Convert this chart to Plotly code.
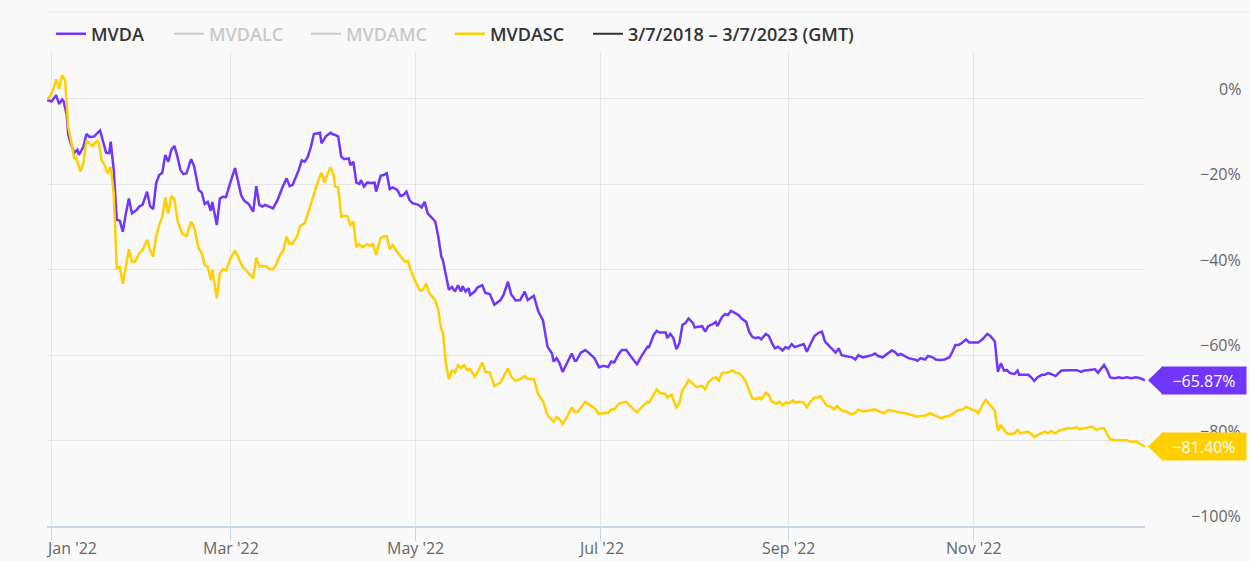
import plotly.graph_objects as go

# ---------------- data ----------------
mvda_dates = [
"2021-12-30 12:00","2022-01-01","2022-01-02 12:00","2022-01-03 12:00","2022-01-04 12:00","2022-01-05","2022-01-06","2022-01-06 12:00",
"2022-01-07 12:00","2022-01-08 12:00","2022-01-09 12:00","2022-01-10","2022-01-11 12:00","2022-01-12 12:00","2022-01-13 12:00","2022-01-15",
"2022-01-16 12:00","2022-01-17","2022-01-18","2022-01-19","2022-01-20","2022-01-20 12:00","2022-01-21 12:00","2022-01-22 12:00",
"2022-01-23 12:00","2022-01-24 12:00","2022-01-25 12:00","2022-01-26 12:00","2022-01-27 12:00","2022-01-29","2022-01-30","2022-01-31",
"2022-02-01 12:00","2022-02-02 12:00","2022-02-03 12:00","2022-02-04 12:00","2022-02-05 12:00","2022-02-06 12:00","2022-02-07 12:00","2022-02-08 12:00",
"2022-02-09 12:00","2022-02-10 12:00","2022-02-11 12:00","2022-02-12 12:00","2022-02-13 12:00","2022-02-14 12:00","2022-02-16","2022-02-17",
"2022-02-18 12:00","2022-02-19 12:00","2022-02-20 12:00","2022-02-21 12:00","2022-02-22 12:00","2022-02-23","2022-02-24 12:00","2022-02-25 12:00",
"2022-02-26 12:00","2022-02-27 12:00","2022-03-01","2022-03-02 12:00","2022-03-04","2022-03-04 12:00","2022-03-05 12:00","2022-03-07",
"2022-03-08 12:00","2022-03-09 12:00","2022-03-10 12:00","2022-03-11 12:00","2022-03-12 12:00","2022-03-14","2022-03-15","2022-03-16 12:00",
"2022-03-18","2022-03-19 12:00","2022-03-20 12:00","2022-03-21 12:00","2022-03-23","2022-03-23 12:00","2022-03-24 12:00","2022-03-25 12:00",
"2022-03-26 12:00","2022-03-27 12:00","2022-03-28 12:00","2022-03-30 12:00","2022-03-31","2022-04-01 12:00","2022-04-03","2022-04-04",
"2022-04-04 12:00","2022-04-05 12:00","2022-04-06 12:00","2022-04-07 12:00","2022-04-09","2022-04-09 12:00","2022-04-10 12:00","2022-04-11 12:00",
"2022-04-12 12:00","2022-04-13","2022-04-14","2022-04-15","2022-04-16 12:00","2022-04-17 12:00","2022-04-18","2022-04-19 12:00",
"2022-04-20 12:00","2022-04-21 12:00","2022-04-22 12:00","2022-04-23 12:00","2022-04-25","2022-04-26","2022-04-27","2022-04-28",
"2022-04-29","2022-04-30","2022-05-02","2022-05-03","2022-05-04","2022-05-05","2022-05-06 12:00","2022-05-07 12:00",
"2022-05-08 12:00","2022-05-09 12:00","2022-05-10","2022-05-11 12:00","2022-05-12","2022-05-13","2022-05-14","2022-05-15",
"2022-05-16","2022-05-16 12:00","2022-05-17 12:00","2022-05-18 12:00","2022-05-19","2022-05-20 12:00","2022-05-21 12:00","2022-05-23",
"2022-05-24","2022-05-25 12:00","2022-05-27","2022-05-29","2022-05-30","2022-05-31 12:00","2022-06-01 12:00","2022-06-03",
"2022-06-04 12:00","2022-06-06","2022-06-07","2022-06-09","2022-06-10 12:00","2022-06-12","2022-06-13 12:00","2022-06-15",
"2022-06-15 12:00","2022-06-16 12:00","2022-06-17 12:00","2022-06-18 12:00","2022-06-20","2022-06-21 12:00","2022-06-22 12:00","2022-06-23",
"2022-06-24 12:00","2022-06-26","2022-06-27 12:00","2022-06-28 12:00","2022-06-29","2022-06-30 12:00","2022-07-02","2022-07-03 12:00",
"2022-07-04 12:00","2022-07-05 12:00","2022-07-07","2022-07-08","2022-07-09 12:00","2022-07-11","2022-07-12","2022-07-13",
"2022-07-14 12:00","2022-07-16 12:00","2022-07-17","2022-07-18 12:00","2022-07-19 12:00","2022-07-20 12:00","2022-07-22 12:00","2022-07-23",
"2022-07-24","2022-07-25","2022-07-26","2022-07-27","2022-07-28","2022-07-29","2022-07-30","2022-07-31 12:00",
"2022-08-01","2022-08-02 12:00","2022-08-03 12:00","2022-08-04 12:00","2022-08-05 12:00","2022-08-07","2022-08-08","2022-08-08 12:00",
"2022-08-10","2022-08-11","2022-08-12","2022-08-13","2022-08-14","2022-08-15 12:00","2022-08-16 12:00","2022-08-18",
"2022-08-19","2022-08-20","2022-08-21","2022-08-22","2022-08-23","2022-08-24 12:00","2022-08-25 12:00","2022-08-26 12:00",
"2022-08-27 12:00","2022-08-28 12:00","2022-08-30","2022-08-31","2022-09-01","2022-09-02","2022-09-03","2022-09-04 12:00",
"2022-09-06","2022-09-07","2022-09-08","2022-09-09 12:00","2022-09-11","2022-09-12","2022-09-13","2022-09-14",
"2022-09-15 12:00","2022-09-16 12:00","2022-09-17 12:00","2022-09-18 12:00","2022-09-20 12:00","2022-09-22","2022-09-23","2022-09-24",
"2022-09-25 12:00","2022-09-27","2022-09-28 12:00","2022-09-29 12:00","2022-09-30 12:00","2022-10-02","2022-10-03 12:00","2022-10-05",
"2022-10-06","2022-10-07","2022-10-08","2022-10-09 12:00","2022-10-10 12:00","2022-10-12 12:00","2022-10-13 12:00","2022-10-14 12:00",
"2022-10-16","2022-10-17","2022-10-18 12:00","2022-10-19 12:00","2022-10-21","2022-10-22 12:00","2022-10-24","2022-10-25",
"2022-10-26","2022-10-27","2022-10-28","2022-10-29 12:00","2022-10-30 12:00","2022-11-01","2022-11-02 12:00","2022-11-04",
"2022-11-05 12:00","2022-11-06 12:00","2022-11-07 12:00","2022-11-08","2022-11-09","2022-11-09 12:00","2022-11-10","2022-11-11",
"2022-11-12","2022-11-13","2022-11-14 12:00","2022-11-15 12:00","2022-11-16","2022-11-17 12:00","2022-11-19","2022-11-20",
"2022-11-21","2022-11-22","2022-11-23 12:00","2022-11-24 12:00","2022-11-25 12:00","2022-11-26 12:00","2022-11-28","2022-11-29",
"2022-11-30","2022-12-02","2022-12-03 12:00","2022-12-05","2022-12-06 12:00","2022-12-07 12:00","2022-12-08 12:00","2022-12-10",
"2022-12-11","2022-12-12","2022-12-13","2022-12-14","2022-12-15","2022-12-16","2022-12-17 12:00","2022-12-19",
"2022-12-20","2022-12-21 12:00","2022-12-23","2022-12-24 12:00","2022-12-26","2022-12-27 12:00",
]
mvda_values = [
-0.2,-0.6,0.9,-1.2,-0.1,-0.6,-3.7,-8.4,
-10.8,-12.6,-11.9,-13.1,-11.2,-8.2,-8.9,-8.8,
-7.7,-7.4,-10.0,-12.6,-12.7,-10.0,-16.6,-28.3,
-28.5,-31.1,-26.8,-23.3,-26.8,-26.0,-25.1,-24.8,
-21.7,-25.1,-25.8,-19.7,-17.8,-17.3,-13.1,-14.7,
-11.9,-11.0,-13.5,-16.6,-17.6,-17.4,-14.1,-15.7,
-21.3,-21.9,-24.6,-24.1,-26.2,-24.1,-29.5,-23.3,
-22.9,-23.0,-19.4,-16.2,-20.9,-22.5,-23.8,-24.6,
-26.4,-20.4,-24.8,-25.2,-24.8,-25.4,-25.6,-23.7,
-20.9,-18.6,-20.4,-20.1,-17.6,-16.6,-14.4,-14.7,
-13.5,-11.2,-8.2,-7.9,-10.4,-8.7,-7.9,-8.4,
-8.4,-8.8,-13.5,-14.1,-13.9,-15.5,-14.7,-19.6,
-19.9,-19.0,-20.5,-19.6,-19.7,-19.6,-21.7,-18.0,
-17.8,-17.4,-21.1,-20.7,-21.3,-22.7,-22.5,-21.7,
-23.7,-24.4,-24.8,-25.4,-24.1,-26.8,-27.9,-28.7,
-32.2,-36.9,-37.7,-42.8,-44.7,-44.0,-45.1,-43.6,
-45.1,-43.8,-45.1,-44.3,-45.9,-45.1,-44.1,-43.6,
-45.4,-45.7,-48.2,-47.1,-45.9,-42.8,-45.7,-47.2,
-47.1,-45.1,-47.1,-46.1,-49.8,-51.8,-58.0,-59.6,
-61.5,-60.7,-61.9,-63.9,-61.9,-59.6,-61.3,-61.3,
-59.4,-58.8,-59.7,-60.3,-60.7,-62.8,-62.5,-62.8,
-61.5,-61.7,-59.7,-58.8,-58.8,-60.3,-61.3,-62.1,
-60.2,-58.0,-58.1,-55.3,-54.3,-54.7,-54.7,-56.0,
-55.0,-56.0,-58.6,-57.2,-52.9,-52.5,-51.4,-52.5,
-53.5,-53.3,-53.2,-54.5,-53.2,-52.7,-52.2,-53.2,
-51.1,-50.4,-50.6,-49.6,-50.0,-50.6,-51.4,-52.2,
-54.5,-55.7,-56.0,-55.8,-56.3,-55.0,-55.5,-57.2,
-58.4,-58.0,-58.9,-58.1,-58.4,-57.4,-58.1,-57.8,
-57.4,-59.2,-57.6,-55.5,-54.7,-54.5,-56.8,-57.6,
-58.6,-59.4,-58.4,-60.0,-60.3,-60.5,-61.0,-60.0,
-60.5,-60.2,-60.0,-59.6,-60.2,-60.5,-59.7,-58.9,
-59.2,-60.0,-59.7,-60.3,-60.7,-61.0,-61.3,-60.7,
-61.0,-60.2,-60.5,-61.0,-61.1,-61.0,-60.5,-59.2,
-57.6,-57.6,-57.2,-56.3,-57.0,-57.0,-57.0,-56.2,
-55.0,-55.5,-56.4,-56.8,-63.9,-62.7,-61.9,-63.6,
-63.5,-64.2,-64.4,-63.6,-64.6,-64.6,-64.6,-65.2,
-66.0,-65.2,-64.6,-64.6,-64.2,-64.4,-64.9,-64.2,
-63.6,-63.5,-63.5,-63.5,-63.9,-63.6,-63.5,-63.3,
-63.3,-64.1,-63.1,-62.3,-63.5,-65.2,-65.4,-65.2,
-65.4,-65.2,-65.4,-65.2,-65.4,-65.87,
]

mvdasc_dates = [
"2021-12-30 12:00","2021-12-31 12:00","2022-01-01 12:00","2022-01-02 12:00","2022-01-03 12:00","2022-01-04 12:00","2022-01-05 12:00","2022-01-06",
"2022-01-06 12:00","2022-01-07 12:00","2022-01-08 12:00","2022-01-09","2022-01-10 12:00","2022-01-11 12:00","2022-01-12 12:00","2022-01-13 12:00",
"2022-01-14 12:00","2022-01-16","2022-01-16 12:00","2022-01-17 12:00","2022-01-18 12:00","2022-01-19 12:00","2022-01-20 12:00","2022-01-21 12:00",
"2022-01-22 12:00","2022-01-23 12:00","2022-01-24 12:00","2022-01-25 12:00","2022-01-26 12:00","2022-01-27 12:00","2022-01-28 12:00","2022-01-30",
"2022-01-31","2022-02-01 12:00","2022-02-02 12:00","2022-02-03 12:00","2022-02-04 12:00","2022-02-05 12:00","2022-02-06 12:00","2022-02-07 12:00",
"2022-02-08 12:00","2022-02-09 12:00","2022-02-10 12:00","2022-02-11 12:00","2022-02-13","2022-02-14 12:00","2022-02-16","2022-02-17",
"2022-02-18 12:00","2022-02-19 12:00","2022-02-20 12:00","2022-02-21 12:00","2022-02-22 12:00","2022-02-23","2022-02-24 12:00","2022-02-25 12:00",
"2022-02-26 12:00","2022-02-27 12:00","2022-03-01","2022-03-02 12:00","2022-03-04","2022-03-05","2022-03-06 12:00","2022-03-07 12:00",
"2022-03-08 12:00","2022-03-09 12:00","2022-03-10 12:00","2022-03-11 12:00","2022-03-13","2022-03-14","2022-03-15","2022-03-16",
"2022-03-17 12:00","2022-03-18 12:00","2022-03-19 12:00","2022-03-20 12:00","2022-03-21 12:00","2022-03-23","2022-03-24","2022-03-25 12:00",
"2022-03-26 12:00","2022-03-27 12:00","2022-03-29","2022-03-30","2022-03-31","2022-04-01","2022-04-02","2022-04-03",
"2022-04-04","2022-04-04 12:00","2022-04-05 12:00","2022-04-06 12:00","2022-04-07 12:00","2022-04-08 12:00","2022-04-09 12:00","2022-04-10 12:00",
"2022-04-11 12:00","2022-04-12 12:00","2022-04-13 12:00","2022-04-15","2022-04-16","2022-04-17","2022-04-18","2022-04-19 12:00",
"2022-04-20 12:00","2022-04-21 12:00","2022-04-22 12:00","2022-04-23 12:00","2022-04-24 12:00","2022-04-26","2022-04-27 12:00","2022-04-28 12:00",
"2022-04-29 12:00","2022-05-01","2022-05-01 12:00","2022-05-02 12:00","2022-05-03 12:00","2022-05-04 12:00","2022-05-05 12:00","2022-05-06 12:00",
"2022-05-07 12:00","2022-05-08 12:00","2022-05-09 12:00","2022-05-10","2022-05-11","2022-05-12","2022-05-13","2022-05-14",
"2022-05-15","2022-05-16","2022-05-17","2022-05-18","2022-05-19","2022-05-20 12:00","2022-05-21 12:00","2022-05-23",
"2022-05-24","2022-05-25 12:00","2022-05-27","2022-05-29","2022-05-30","2022-05-31 12:00","2022-06-01 12:00","2022-06-03",
"2022-06-04 12:00","2022-06-06","2022-06-07","2022-06-09","2022-06-10 12:00","2022-06-12","2022-06-13 12:00","2022-06-14 12:00",
"2022-06-15 12:00","2022-06-16 12:00","2022-06-17 12:00","2022-06-18 12:00","2022-06-20","2022-06-21 12:00","2022-06-22 12:00","2022-06-23 12:00",
"2022-06-25","2022-06-26","2022-06-27 12:00","2022-06-28 12:00","2022-06-29","2022-06-30 12:00","2022-07-02","2022-07-03 12:00",
"2022-07-04 12:00","2022-07-05 12:00","2022-07-07","2022-07-08","2022-07-09 12:00","2022-07-11","2022-07-12","2022-07-13",
"2022-07-14 12:00","2022-07-16 12:00","2022-07-17","2022-07-18 12:00","2022-07-19 12:00","2022-07-20 12:00","2022-07-22 12:00","2022-07-23",
"2022-07-24 12:00","2022-07-25","2022-07-26","2022-07-27","2022-07-28","2022-07-29","2022-07-30","2022-07-31 12:00",
"2022-08-01 12:00","2022-08-02 12:00","2022-08-03 12:00","2022-08-04 12:00","2022-08-05 12:00","2022-08-07","2022-08-08","2022-08-09",
"2022-08-10","2022-08-11 12:00","2022-08-12 12:00","2022-08-13 12:00","2022-08-14 12:00","2022-08-15 12:00","2022-08-17","2022-08-18",
"2022-08-19","2022-08-20","2022-08-21","2022-08-22 12:00","2022-08-23","2022-08-24 12:00","2022-08-25 12:00","2022-08-26 12:00",
"2022-08-28","2022-08-29","2022-08-30","2022-08-31","2022-09-01","2022-09-02 12:00","2022-09-03","2022-09-04 12:00",
"2022-09-06","2022-09-07","2022-09-08","2022-09-09 12:00","2022-09-10 12:00","2022-09-11 12:00","2022-09-12 12:00","2022-09-13 12:00",
"2022-09-15","2022-09-16","2022-09-17","2022-09-18 12:00","2022-09-20","2022-09-21 12:00","2022-09-23","2022-09-24",
"2022-09-25 12:00","2022-09-27","2022-09-28 12:00","2022-09-29 12:00","2022-10-01","2022-10-02 12:00","2022-10-04","2022-10-05",
"2022-10-06 12:00","2022-10-08","2022-10-09 12:00","2022-10-10 12:00","2022-10-12","2022-10-13 12:00","2022-10-15","2022-10-16",
"2022-10-17 12:00","2022-10-19","2022-10-20 12:00","2022-10-21 12:00","2022-10-22 12:00","2022-10-24","2022-10-25","2022-10-26 12:00",
"2022-10-27 12:00","2022-10-28 12:00","2022-10-29 12:00","2022-10-30 12:00","2022-10-31 12:00","2022-11-02","2022-11-02 12:00","2022-11-04",
"2022-11-05","2022-11-06","2022-11-07","2022-11-08","2022-11-09","2022-11-09 12:00","2022-11-10","2022-11-11",
"2022-11-12","2022-11-13","2022-11-14 12:00","2022-11-15 12:00","2022-11-16 12:00","2022-11-17 12:00","2022-11-19","2022-11-20",
"2022-11-21","2022-11-22","2022-11-23 12:00","2022-11-24 12:00","2022-11-25 12:00","2022-11-26 12:00","2022-11-28","2022-11-29",
"2022-11-30 12:00","2022-12-02","2022-12-03 12:00","2022-12-05","2022-12-06","2022-12-07 12:00","2022-12-08 12:00","2022-12-10",
"2022-12-11 12:00","2022-12-13","2022-12-14","2022-12-15","2022-12-16","2022-12-17 12:00","2022-12-19","2022-12-20 12:00",
"2022-12-21 12:00","2022-12-23","2022-12-24 12:00","2022-12-26","2022-12-27 12:00",
]
mvdasc_values = [
-0.1,0.7,2.1,4.6,2.3,5.6,4.3,-2.6,
-6.5,-10.0,-14.1,-13.5,-17.0,-15.1,-9.8,-10.4,
-11.0,-9.8,-10.0,-14.3,-15.5,-17.4,-15.9,-22.1,
-39.6,-39.3,-43.3,-39.3,-35.2,-38.1,-38.1,-36.0,
-35.4,-33.0,-35.4,-36.9,-32.2,-29.5,-27.6,-23.0,
-26.8,-22.7,-23.5,-28.3,-31.5,-32.1,-28.7,-29.9,
-35.0,-36.0,-38.9,-39.3,-42.4,-40.0,-46.7,-40.8,
-39.9,-40.2,-37.3,-35.5,-37.7,-39.3,-40.4,-41.2,
-42.0,-37.1,-39.3,-39.1,-39.3,-39.9,-39.9,-38.9,
-36.3,-35.4,-32.2,-34.0,-33.8,-32.1,-29.7,-29.1,
-26.9,-24.3,-20.9,-19.0,-17.3,-19.6,-17.6,-16.0,
-17.8,-20.5,-20.7,-27.6,-27.4,-27.4,-29.5,-28.7,
-34.7,-34.0,-34.7,-34.0,-34.4,-34.0,-36.5,-32.6,
-32.2,-32.1,-35.2,-34.2,-35.4,-36.9,-38.1,-37.9,
-40.3,-42.8,-43.6,-44.9,-44.6,-43.2,-45.4,-46.3,
-47.1,-49.4,-54.1,-54.5,-61.9,-65.6,-63.6,-64.1,
-62.3,-63.1,-62.3,-63.5,-63.3,-65.0,-63.9,-61.7,
-63.9,-64.1,-67.2,-66.4,-65.0,-63.1,-65.0,-66.0,
-65.6,-64.9,-65.6,-65.6,-69.3,-70.7,-74.0,-74.8,
-75.6,-74.5,-75.0,-76.1,-74.4,-72.2,-73.4,-73.2,
-71.7,-70.9,-71.7,-72.1,-72.4,-73.8,-73.5,-73.6,
-72.7,-72.7,-71.4,-71.1,-70.9,-72.1,-72.8,-73.4,
-72.2,-70.9,-71.1,-69.3,-68.0,-68.8,-69.1,-69.9,
-69.3,-70.5,-72.2,-71.3,-68.1,-67.2,-65.8,-66.7,
-67.4,-67.4,-67.2,-68.0,-66.4,-65.4,-65.2,-66.0,
-64.2,-64.1,-63.9,-63.5,-64.1,-64.2,-65.2,-66.4,
-68.5,-70.1,-70.3,-69.9,-70.3,-68.8,-69.3,-70.9,
-71.4,-70.9,-71.7,-71.1,-71.3,-70.6,-71.1,-70.9,
-71.1,-72.2,-71.1,-69.9,-69.9,-69.6,-70.7,-71.7,
-72.1,-72.7,-71.9,-73.0,-73.2,-73.8,-73.5,-72.7,
-73.2,-73.0,-72.8,-72.7,-73.2,-73.6,-72.8,-73.0,
-73.2,-73.5,-73.6,-73.8,-74.2,-74.4,-74.2,-74.2,
-73.6,-74.0,-74.4,-74.8,-74.4,-74.2,-73.8,-73.0,
-72.8,-72.7,-72.1,-72.4,-72.8,-73.2,-73.6,-71.5,
-70.5,-71.3,-72.2,-73.0,-77.7,-77.1,-76.3,-77.5,
-78.3,-78.5,-78.3,-77.5,-78.3,-78.1,-77.9,-78.5,
-79.2,-78.7,-78.1,-77.9,-78.3,-77.8,-78.3,-77.7,
-77.4,-77.1,-77.1,-76.9,-77.4,-77.1,-76.9,-76.7,
-77.5,-77.1,-77.1,-78.5,-79.7,-79.9,-79.9,-80.0,
-79.9,-80.3,-80.2,-80.8,-81.4,
]

legend_names = ["MVDA", "MVDALC", "MVDAMC", "MVDASC", "3/7/2018 – 3/7/2023 (GMT)"]
x_tick_dates = ["2022-01-01", "2022-03-01", "2022-05-01", "2022-07-01", "2022-09-01", "2022-11-01"]
x_tick_text = ["Jan '22", "Mar '22", "May '22", "Jul '22", "Sep '22", "Nov '22"]
y_tick_vals = [0, -20, -40, -60, -80, -100]
y_range = [-100, 11]

# ---------------- style ----------------
PURPLE = "#7036fc"
YELLOW = "#ffcf00"
BG = "#f9f9f9"
GRID = "#e6e6e6"
FONT = "Open Sans"
LEGEND_X = [0.0036, 0.1111, 0.2359, 0.3670, 0.4927]   # one legend box per entry

fig = go.Figure()
fig.add_trace(go.Scatter(x=mvda_dates, y=mvda_values, mode="lines", name=legend_names[0],
                         line=dict(color=PURPLE, width=2.5), hoverinfo="skip", legend="legend"))
fig.add_trace(go.Scatter(x=[None], y=[None], mode="lines", visible="legendonly",
                         name="<span style='color:#999999'>" + legend_names[1] + "</span>",
                         line=dict(color="#999999", width=2), legend="legend2"))
fig.add_trace(go.Scatter(x=[None], y=[None], mode="lines", visible="legendonly",
                         name="<span style='color:#999999'>" + legend_names[2] + "</span>",
                         line=dict(color="#999999", width=2), legend="legend3"))
fig.add_trace(go.Scatter(x=mvdasc_dates, y=mvdasc_values, mode="lines", name=legend_names[3],
                         line=dict(color=YELLOW, width=2.5), hoverinfo="skip", legend="legend4"))
fig.add_trace(go.Scatter(x=[None], y=[None], mode="lines", name=legend_names[4],
                         line=dict(color="#333333", width=2), legend="legend5"))

annotations = []
# right-aligned y tick labels, sitting just above their gridlines
for v in y_tick_vals:
    txt = (f"{v}%").replace("-", "\u2212")
    annotations.append(dict(xref="paper", yref="y", x=1.0893, y=v, xanchor="right", yanchor="middle",
                            yshift=10, text=txt, showarrow=False,
                            font=dict(family=FONT, size=16, color="#666666")))
# x tick labels (first one justified to the right like the original)
for i, (d, t) in enumerate(zip(x_tick_dates, x_tick_text)):
    annotations.append(dict(xref="x", yref="paper", x=d, y=0, xanchor="left" if i == 0 else "center",
                            xshift=-8 if i == 0 else 0, yanchor="middle", yshift=-22,
                            text=t, showarrow=False,
                            font=dict(family=FONT, size=16, color="#666666")))

shapes = [dict(type="line", xref="paper", yref="paper", x0=0.002, x1=1.1, y0=1.0844, y1=1.0844,
               line=dict(color="#e8e8e8", width=1))]
for dates, vals, col in [(mvda_dates, mvda_values, PURPLE), (mvdasc_dates, mvdasc_values, YELLOW)]:
    last_x, last_y = dates[-1], vals[-1]
    label = (f"{last_y:.2f}%").replace("-", "\u2212")
    y_frac = (last_y - y_range[0]) / (y_range[1] - y_range[0])
    shapes.append(dict(type="path", xref="paper", yref="paper", xsizemode="pixel", ysizemode="pixel",
                       xanchor=1.0, yanchor=y_frac, path="M 3,0 L 17,13.5 L 17,-13.5 Z",
                       fillcolor=col, line=dict(width=0), layer="above"))
    annotations.append(dict(xref="x", yref="y", x=last_x, y=last_y, xanchor="left", yanchor="middle",
                            xshift=16, text=label, showarrow=False, width=84, height=27,
                            bgcolor=col, borderpad=0, align="center",
                            font=dict(family=FONT, size=16, color="#ffffff")))

legend_common = dict(orientation="h", xanchor="left", y=1.038, yanchor="middle",
                     bgcolor="rgba(0,0,0,0)", itemwidth=30,
                     font=dict(family=FONT, size=18, color="#333333", weight=600),
                     itemclick=False, itemdoubleclick=False)

fig.update_layout(
    width=1250, height=561,
    margin=dict(l=47, r=105, t=52, b=35, autoexpand=False),
    paper_bgcolor=BG, plot_bgcolor=BG,
    font=dict(family=FONT, color="#333333"),
    showlegend=True,
    legend=dict(x=LEGEND_X[0], **legend_common),
    legend2=dict(x=LEGEND_X[1], **legend_common),
    legend3=dict(x=LEGEND_X[2], **legend_common),
    legend4=dict(x=LEGEND_X[3], **legend_common),
    legend5=dict(x=LEGEND_X[4], **legend_common),
    xaxis=dict(type="date", range=[mvda_dates[0], mvda_dates[-1]],
               tickvals=x_tick_dates, showticklabels=False, automargin=False,
               showgrid=True, gridcolor=GRID, gridwidth=1,
               ticks="outside", ticklen=13, tickcolor="#ccd6eb", tickwidth=1,
               showline=True, linecolor="#ccd6eb", linewidth=2,
               zeroline=False, fixedrange=True),
    yaxis=dict(range=y_range, tickvals=y_tick_vals, showticklabels=False, automargin=False,
               showgrid=True, gridcolor=GRID, gridwidth=1, zeroline=False,
               showline=False, ticks="", fixedrange=True),
    annotations=annotations,
    shapes=shapes,
    hovermode=False,
)

fig.write_html("out.html", config={"displayModeBar": False},
               post_script="document.body.style.margin='0';document.body.style.overflow='hidden';")
